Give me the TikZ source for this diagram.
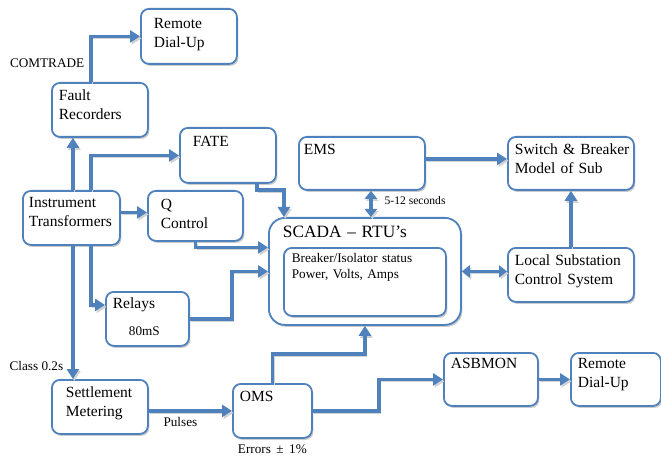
\documentclass[tikz,border=0pt]{standalone}
\usepackage{fontspec}
\setmainfont{Liberation Serif}
\usepackage{xcolor}
\usepackage{tikz}
\usetikzlibrary{arrows.meta, positioning, shadows}

\definecolor{boxblue}{RGB}{79,129,189}
\newcommand\fmain{\fontsize{15.5}{18.8}\selectfont}
\newcommand\fsmall{\fontsize{13.2}{15.5}\selectfont}
\newcommand\ftiny{\fontsize{11.6}{13}\selectfont}
\newcommand\fbig{\fontsize{17.3}{20}\selectfont}

\begin{document}
\begin{tikzpicture}[x=1pt, y=-1pt,
  box/.style={draw=boxblue, line width=1.8pt, rounded corners=8pt, fill=white,
              anchor=north west, align=left, inner xsep=7pt, inner ysep=3pt, font=\fmain,
              drop shadow={shadow xshift=1.5pt, shadow yshift=-2pt, fill=gray!40, opacity=1}},
  dims/.style n args={3}{text width=#1pt, text height=#2pt, text depth=#3pt},
  arr/.style={draw=boxblue, line width=3.5pt, -{Triangle[length=10pt, width=12pt]},
              preaction={draw=gray!35, transform canvas={xshift=1.5pt, yshift=-2pt}}},
  dbl/.style={arr, {Triangle[length=8pt, width=12pt]}-{Triangle[length=8pt, width=12pt]}},
  lbl/.style={font=\fsmall, inner sep=2pt}
]
  \useasboundingbox (0,0) rectangle (661,457);

  % boxes
  \node[box, dims={82}{17}{32}] (remA) at (140,8) {\hspace*{6pt}Remote\\\hspace*{6pt}Dial-Up};
  \node[box, dims={82}{15}{33}] (fault) at (51,82) {Fault\\Recorders};
  \node[box, dims={82}{16}{33}] (fate) at (179,127) {\hspace*{6pt}FATE};
  \node[box, inner xsep=5pt, dims={116}{15}{32}] (ems) at (298,136) {EMS};
  \node[box, inner xsep=5pt, dims={116}{15}{32}] (sw) at (507,136) {\mbox{\hspace*{2pt}Switch \& Breaker}\\\hspace*{2pt}Model of Sub};
  \node[box, inner xsep=6pt, dims={85}{14}{34}] (inst) at (22,190) {Instrument\\Transformers};
  \node[box, dims={81}{16}{28}] (qc) at (147,190) {\hspace*{6pt}Q\\\hspace*{6pt}Control};
  \node[box, rounded corners=16pt, inner xsep=14pt, font=\fbig, dims={164}{17}{84}] (scada) at (268,217) {SCADA – RTU’s};
  \node[box, inner xsep=8pt, font=\fsmall, dims={146}{12}{50}] (stat) at (283,247) {Breaker/Isolator status\\Power, Volts, Amps};
  \node[box, dims={112}{15}{33}] (local) at (507,247) {\mbox{Local Substation}\\Control System};
  \node[box, dims={69}{14}{34}] (relays) at (105,291) {Relays\\[8pt]\hspace*{16pt}{\fsmall 80mS}};
  \node[box, dims={82}{15}{33}] (settle) at (51,379) {\hspace*{7pt}Settlement\\\hspace*{7pt}Metering};
  \node[box, dims={65}{15}{33}] (oms) at (232,383) {OMS};
  \node[box, dims={80}{13}{34}] (asb) at (443,352) {ASBMON};
  \node[box, dims={76}{13}{34}] (remB) at (570,352) {Remote\\Dial-Up};

  \node[lbl, below=4pt of oms] (err) {Errors \,±\, 1\%};

  % tap points
  \coordinate (instN1) at ([xshift=1.5pt]inst.north);
  \coordinate (instN2) at ([xshift=19.5pt]inst.north);
  \coordinate (instS1) at ([xshift=1.5pt]inst.south);
  \coordinate (instS2) at ([xshift=19.5pt]inst.south);
  \coordinate (instE) at ([yshift=5.5pt]inst.east);
  \coordinate (emsS) at ([xshift=9pt]ems.south);
  \coordinate (emsE) at ([yshift=4.5pt]ems.east);

  % connectors
  \draw[arr] ([xshift=-9pt]fault.north) |- node[lbl, pos=0.21, left, xshift=-3pt] (comtrade) {COMTRADE} (remA.west);
  \draw[arr] (instN1) -- (instN1 |- fault.south);
  \draw[arr] (instN2) |- (fate.west);
  \draw[arr] (instE) -- (instE -| qc.west);
  \draw[arr] (instS2) |- ([yshift=14pt]relays.west);
  \draw[arr] (instS1) -- node[lbl, pos=0.9, left, xshift=-6pt] (cls) {Class 0.2s} (instS1 |- settle.north);
  \draw[arr] ([xshift=29pt]fate.south) -- ++(0,6) -| ([xshift=-81pt]scada.north);
  \draw[arr] (qc.south) |- ([yshift=24pt]scada.west);
  \draw[arr] (relays.east) -- ++(42,0) |- (scada.west);
  \draw[arr] (oms.north) -- ++(0,-29) -| (scada.south);
  \draw[arr] (oms.west -| settle.east) -- node[lbl, below, pos=0.38, yshift=-3pt] (pul) {Pulses} (oms.west);
  \draw[arr] (oms.east) -- ++(66,0) |- (asb.west);
  \draw[arr] (asb.east) -- (remB.west);
  \draw[dbl] (emsS) -- node[lbl, right, font=\ftiny, xshift=10pt, yshift=3pt] (sec) {5-12 seconds} (emsS |- scada.north);
  \draw[arr] (emsE) -- (emsE -| sw.west);
  \draw[arr] (local.north) -- (sw.south);
  \draw[dbl] (scada.east) -- (scada.east -| local.west);
\end{tikzpicture}
\end{document}
